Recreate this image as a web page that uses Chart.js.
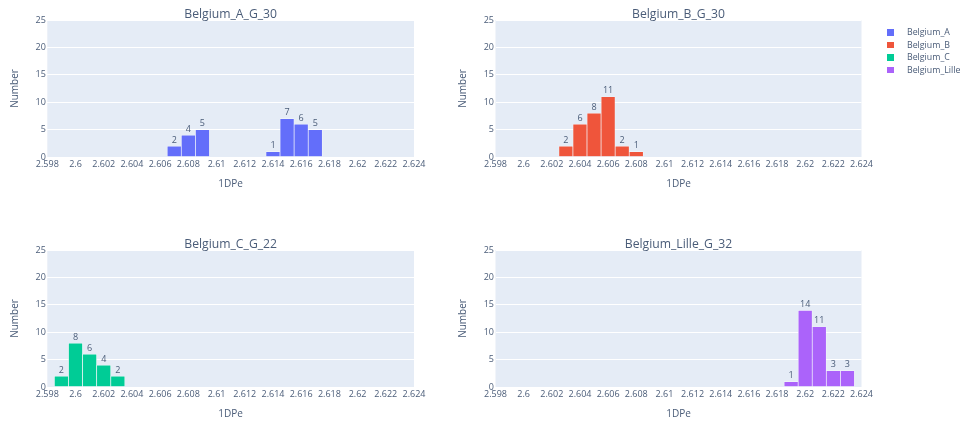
<!DOCTYPE html>
<html>
<head>
<meta charset="utf-8">
<script src="https://cdn.jsdelivr.net/npm/chart.js@4.4.1/dist/chart.umd.min.js"></script>
<style>
  html, body { margin: 0; padding: 0; background: #ffffff; }
  #wrap { position: relative; width: 966px; height: 421px; overflow: hidden; }
  #wrap canvas { position: absolute; left: 0; top: 0; }
  #legend { position: absolute; left: 887px; top: 26px; font-family: "Open Sans", "DejaVu Sans", sans-serif; font-size: 8.8px; color: #4a5c78; }
  .item { position: relative; height: 12.5px; line-height: 12.5px; white-space: nowrap; }
  .swatch { position: absolute; left: 0; top: 3.3px; width: 6.5px; height: 6.5px; }
  .label { position: absolute; left: 20px; top: 0; }
</style>
</head>
<body>
<div id="wrap">
  <canvas id="cA" width="966" height="421"></canvas>
  <canvas id="cB" width="966" height="421"></canvas>
  <canvas id="cC" width="966" height="421"></canvas>
  <canvas id="cD" width="966" height="421"></canvas>
  <div id="legend"></div>
</div>
<script>
// Histogram bins (bin centres on 1DPe) and counts per group
const seriesNames = ['Belgium_A', 'Belgium_B', 'Belgium_C', 'Belgium_Lille'];
const panelTitles = ['Belgium_A_G_30', 'Belgium_B_G_30', 'Belgium_C_G_22', 'Belgium_Lille_G_32'];
const seriesColors = ['#636EFA', '#EF553B', '#00CC96', '#AB63FA'];

const binsA = [2.607, 2.608, 2.609, 2.614, 2.615, 2.616, 2.617];
const countsA = [2, 4, 5, 1, 7, 6, 5];

const binsB = [2.603, 2.604, 2.605, 2.606, 2.607, 2.608];
const countsB = [2, 6, 8, 11, 2, 1];

const binsC = [2.599, 2.600, 2.601, 2.602, 2.603];
const countsC = [2, 8, 6, 4, 2];

const binsLille = [2.619, 2.620, 2.621, 2.622, 2.623];
const countsLille = [1, 14, 11, 3, 3];

const xTickValues = [2.598, 2.600, 2.602, 2.604, 2.606, 2.608, 2.610, 2.612, 2.614, 2.616, 2.618, 2.620, 2.622, 2.624];
const yTickValues = [0, 5, 10, 15, 20, 25];

const xAxisTitle = '1DPe';
const yAxisTitle = 'Number';

// Subplot frames in page pixels
const W = 966, H = 421;
const frames = [
  { left: 47.3, top: 20, right: 414, bottom: 157 },
  { left: 495.5, top: 20, right: 861.5, bottom: 157 },
  { left: 47.3, top: 250, right: 414, bottom: 387 },
  { left: 495.5, top: 250, right: 861.5, bottom: 387 }
];

const FONT = '"Open Sans", "DejaVu Sans", sans-serif';
const TEXT = '#4a5c78';
const Y_AXIS_W = 40, X_AXIS_H = 30;

// Plot background, panel title, axis titles and bar value labels
const panelPlugin = {
  id: 'panel',
  beforeDraw(chart) {
    const a = chart.chartArea, ctx = chart.ctx;
    ctx.save();
    ctx.fillStyle = '#E5ECF6';
    ctx.fillRect(a.left, a.top, a.right - a.left, a.bottom - a.top);
    ctx.restore();
  },
  afterDatasetsDraw(chart) {
    const ctx = chart.ctx;
    ctx.save();
    ctx.font = '9px ' + FONT;
    ctx.fillStyle = TEXT;
    ctx.textAlign = 'center';
    ctx.textBaseline = 'alphabetic';
    chart.data.datasets.forEach((ds, di) => {
      chart.getDatasetMeta(di).data.forEach((bar, i) => {
        ctx.fillText(String(ds.data[i].y), bar.x, bar.y - 3.5);
      });
    });
    ctx.restore();
  },
  afterDraw(chart, args, opts) {
    const a = chart.chartArea, ctx = chart.ctx;
    ctx.save();
    ctx.fillStyle = TEXT;
    ctx.textAlign = 'center';
    ctx.textBaseline = 'alphabetic';
    ctx.font = '12.2px ' + FONT;
    ctx.fillText(opts.title, (a.left + a.right) / 2, a.top - 2);
    ctx.font = '10px ' + FONT;
    ctx.fillText(xAxisTitle, (a.left + a.right) / 2, a.bottom + 29.7);
    ctx.translate(a.left - 29.2, (a.top + a.bottom) / 2);
    ctx.rotate(-Math.PI / 2);
    ctx.fillText(yAxisTitle, 0, 0);
    ctx.restore();
  }
};

function makePanel(canvasId, idx, bins, counts) {
  const f = frames[idx];
  const data = bins.map((b, i) => ({ x: b, y: counts[i] }));
  return new Chart(document.getElementById(canvasId), {
    type: 'bar',
    data: {
      datasets: [{
        label: seriesNames[idx],
        data: data,
        backgroundColor: seriesColors[idx],
        borderColor: 'rgba(255,255,255,0.55)',
        borderWidth: 0.7,
        borderSkipped: false,
        barPercentage: 1,
        categoryPercentage: 1
      }]
    },
    options: {
      responsive: false,
      animation: false,
      devicePixelRatio: 1,
      layout: {
        padding: {
          left: f.left - Y_AXIS_W,
          top: f.top,
          right: W - f.right,
          bottom: H - f.bottom - X_AXIS_H
        }
      },
      plugins: {
        legend: { display: false },
        tooltip: { enabled: false },
        panel: { title: panelTitles[idx] }
      },
      scales: {
        x: {
          type: 'linear',
          min: xTickValues[0],
          max: xTickValues[xTickValues.length - 1],
          offset: false,
          grid: { display: false, drawTicks: false },
          border: { display: false },
          afterBuildTicks(axis) { axis.ticks = xTickValues.map(v => ({ value: v })); },
          afterFit(axis) { axis.height = X_AXIS_H; },
          ticks: {
            autoSkip: false,
            maxRotation: 0,
            minRotation: 0,
            padding: 2,
            color: TEXT,
            font: { family: FONT, size: 9 },
            callback: v => String(+Number(v).toFixed(3))
          }
        },
        y: {
          type: 'linear',
          min: yTickValues[0],
          max: yTickValues[yTickValues.length - 1],
          grid: { color: '#ffffff', lineWidth: 1, drawTicks: false },
          border: { display: false },
          afterBuildTicks(axis) { axis.ticks = yTickValues.map(v => ({ value: v })); },
          afterFit(axis) { axis.width = Y_AXIS_W; },
          ticks: {
            padding: 1.5,
            color: TEXT,
            font: { family: FONT, size: 9 }
          }
        }
      }
    },
    plugins: [panelPlugin]
  });
}

makePanel('cA', 0, binsA, countsA);
makePanel('cB', 1, binsB, countsB);
makePanel('cC', 2, binsC, countsC);
makePanel('cD', 3, binsLille, countsLille);

// Shared legend
const legend = document.getElementById('legend');
seriesNames.forEach((name, i) => {
  const row = document.createElement('div');
  row.className = 'item';
  const sw = document.createElement('span');
  sw.className = 'swatch';
  sw.style.background = seriesColors[i];
  const lb = document.createElement('span');
  lb.className = 'label';
  lb.textContent = name;
  row.appendChild(sw);
  row.appendChild(lb);
  legend.appendChild(row);
});
</script>
</body>
</html>
